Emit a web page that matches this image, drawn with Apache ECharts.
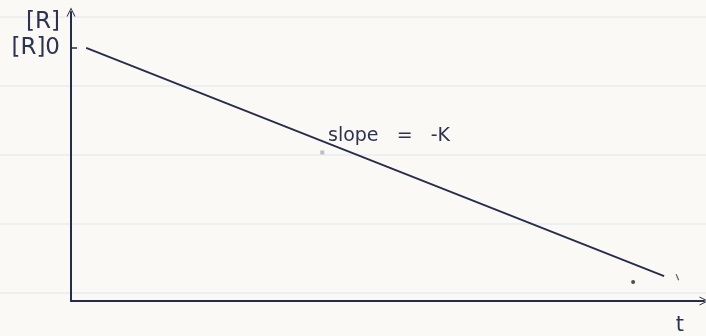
<!DOCTYPE html>
<html>
<head>
<meta charset="utf-8">
<script src="https://cdn.jsdelivr.net/npm/echarts@6/dist/echarts.min.js"></script>
<style>
  html, body { margin: 0; padding: 0; background: #faf9f6; }
  #chart { width: 706px; height: 336px; }
</style>
</head>
<body>
<div id="chart"></div>
<script>
// Zero-order decay sketch: [R] falls linearly with time, slope = -k
var decayT = [0.24, 9.37];          // time at start and end of the drawn line
var decayR = [8.76, 0.86];          // concentration at those times
var penDot = [[8.88, 0.66]];        // stray pen dot near the end
var penStroke = [[9.56, 0.93], [9.60, 0.72]]; // small pen flick
var speck = [[3.97, 5.14]];         // grey speck on the paper

var yLabelValues = [8.76, 9.66];
var yLabelTexts = ['[R]0', '[R]'];
var yTickValues = [8.76];
var xLabelValues = [9.62];
var xLabelTexts = ['t'];

var ruledRows = [17, 86, 155, 224, 293]; // ruled notebook lines (px)

var ink = '#272c48';
var hand = '"DejaVu Sans", "Liberation Sans", sans-serif';
var chevron = 'path://M0,12 L6,0 L12,12 L10.6,12 L6,2.6 L1.4,12 Z';

var lineData = decayT.map(function (t, i) { return [t, decayR[i]]; });

var chart = echarts.init(document.getElementById('chart'), null, { renderer: 'canvas' });
chart.setOption({
  backgroundColor: '#faf9f6',
  animation: false,
  graphic: ruledRows.map(function (y) {
    return {
      type: 'line', z: -10, silent: true,
      shape: { x1: 0, y1: y, x2: 706, y2: y },
      style: { stroke: '#e2e6ea', lineWidth: 1.2 }
    };
  }).concat([{
    type: 'text', left: 328, top: 127, z: 10,
    style: { text: 'slope   =   -K', font: '19px ' + hand, fill: '#2e3350' }
  }]),
  grid: { left: 71, right: 2, top: 12, bottom: 34 },
  xAxis: {
    type: 'value', min: 0, max: 10,
    splitLine: { show: false },
    axisLine: {
      show: true, symbol: ['none', chevron], symbolSize: [11, 9],
      lineStyle: { color: ink, width: 2 }
    },
    axisTick: { show: false },
    axisLabel: {
      customValues: xLabelValues, margin: 14,
      formatter: function (v) { return xLabelTexts[xLabelValues.indexOf(v)]; },
      fontFamily: hand, fontSize: 21, color: '#2e3350'
    }
  },
  yAxis: {
    type: 'value', min: 0, max: 10,
    splitLine: { show: false },
    axisLine: {
      show: true, symbol: ['none', chevron], symbolSize: [11, 9],
      lineStyle: { color: ink, width: 2 }
    },
    axisTick: { show: true, inside: true, length: 6, customValues: yTickValues, lineStyle: { color: ink, width: 1.5 } },
    axisLabel: {
      customValues: yLabelValues, margin: 11,
      formatter: function (v) { return yLabelTexts[yLabelValues.indexOf(v)]; },
      fontFamily: hand, fontSize: 23, color: '#2e3350'
    }
  },
  series: [
    {
      type: 'line', data: lineData, symbol: 'none',
      lineStyle: { color: ink, width: 1.8 }
    },
    {
      type: 'line', data: penStroke, symbol: 'none',
      lineStyle: { color: '#555a70', width: 1.2 }
    },
    {
      type: 'scatter', data: penDot, symbol: 'circle', symbolSize: 4,
      itemStyle: { color: '#222' }
    },
    {
      type: 'scatter', data: speck, symbol: 'rect', symbolSize: 4,
      itemStyle: { color: '#b0b0b0' }
    }
  ]
});
</script>
</body>
</html>
